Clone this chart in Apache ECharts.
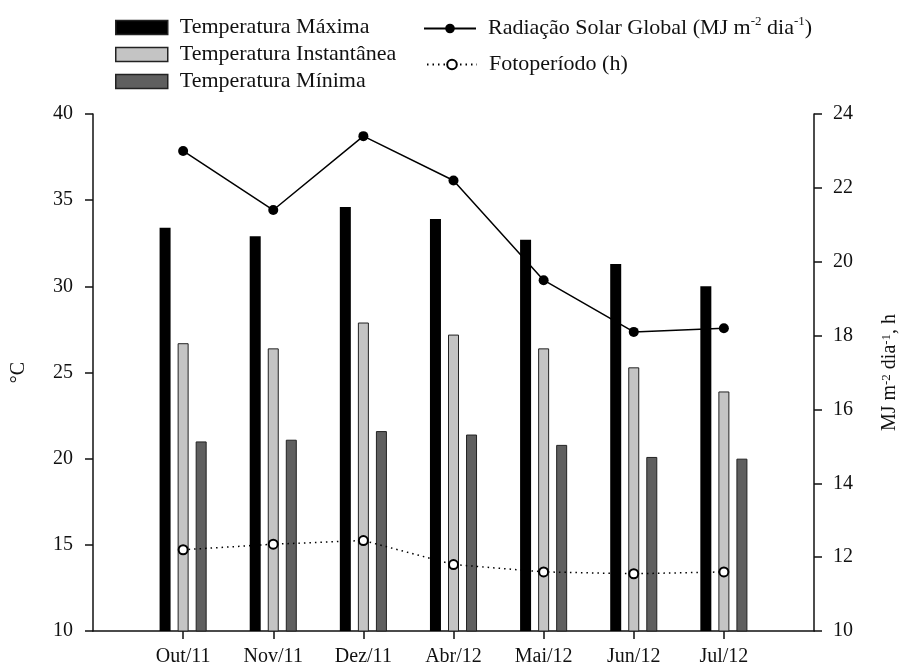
<!DOCTYPE html>
<html>
<head>
<meta charset="utf-8">
<script src="https://cdn.jsdelivr.net/npm/echarts@6/dist/echarts.min.js"></script>
<style>
  html, body { margin: 0; padding: 0; background: #fff; }
  #chart { width: 900px; height: 666px; }
</style>
</head>
<body>
<div id="chart"></div>
<script>
// Months sampled
var months = ['Out/11', 'Nov/11', 'Dez/11', 'Abr/12', 'Mai/12', 'Jun/12', 'Jul/12'];

// Temperatures (°C)
var tempMax  = [33.4, 32.9, 34.6, 33.9, 32.7, 31.3, 30.0];
var tempInst = [26.7, 26.4, 27.9, 27.2, 26.4, 25.3, 23.9];
var tempMin  = [21.0, 21.1, 21.6, 21.4, 20.8, 20.1, 20.0];

// Global solar radiation (MJ m-2 dia-1) and photoperiod (h)
var radiacao    = [23.0, 21.4, 23.4, 22.2, 19.5, 18.1, 18.2];
var fotoperiodo = [12.2, 12.35, 12.45, 11.8, 11.6, 11.55, 11.6];

// Axis ticks
var leftTicks  = { min: 10, max: 40, step: 5 };
var rightTicks = { min: 10, max: 24, step: 2 };

var NAME_MAX  = 'Temperatura Máxima';
var NAME_INST = 'Temperatura Instantânea';
var NAME_MIN  = 'Temperatura Mínima';
var NAME_RAD  = 'Radiação Solar Global (MJ m-2 dia-1)';
var NAME_FOTO = 'Fotoperíodo (h)';

// Empty slot on each side so the months sit one step in from the axis ends
function pad(arr, fill) { return [fill].concat(arr, [fill]); }
var cats = pad(months, '');

var FONT = 'Liberation Serif';
var INK = '#111';

var supRich = {
  sup: { fontSize: 13, fontFamily: FONT, color: INK, verticalAlign: 'top', lineHeight: 13 }
};

var chart = echarts.init(document.getElementById('chart'));
chart.setOption({
  animation: false,
  backgroundColor: '#fff',
  textStyle: { fontFamily: FONT, color: INK },
  grid: { left: 93, right: 86, top: 114, bottom: 35, containLabel: false, outerBoundsMode: 'none' },
  legend: [
    {
      orient: 'vertical', left: 110, top: 9,
      itemWidth: 52, itemHeight: 14, itemGap: 0, icon: 'rect',
      data: [NAME_MAX, NAME_INST, NAME_MIN],
      itemStyle: { borderColor: '#222', borderWidth: 1.5 },
      textStyle: { fontFamily: FONT, fontSize: 22, color: INK, lineHeight: 27, padding: [0, 0, 0, 7] },
      selectedMode: false
    },
    {
      orient: 'horizontal', left: 418, top: 10,
      itemWidth: 52, itemHeight: 12,
      data: [NAME_RAD],
      formatter: function () { return 'Radiação Solar Global (MJ m{sup|-2} dia{sup|-1})'; },
      textStyle: { fontFamily: FONT, fontSize: 22, color: INK, lineHeight: 27, padding: [0, 0, 0, 7], rich: supRich },
      selectedMode: false
    },
    {
      orient: 'horizontal', left: 421, top: 46,
      itemWidth: 50, itemHeight: 12,
      data: [NAME_FOTO],
      textStyle: { fontFamily: FONT, fontSize: 22, color: INK, lineHeight: 27, padding: [0, 0, 0, 7] },
      selectedMode: false
    }
  ],
  xAxis: {
    type: 'category',
    data: cats,
    boundaryGap: false,
    axisLine: { lineStyle: { color: INK, width: 1.5 } },
    axisTick: {
      length: 8, lineStyle: { color: INK, width: 1.5 },
      interval: function (i) { return i > 0 && i < cats.length - 1; }
    },
    axisLabel: { interval: 0, fontFamily: FONT, fontSize: 20, color: INK, margin: 16 },
    splitLine: { show: false }
  },
  yAxis: [
    {
      type: 'value', position: 'left',
      min: leftTicks.min, max: leftTicks.max, interval: leftTicks.step,
      name: '°C', nameLocation: 'middle', nameGap: 64, nameRotate: 90,
      nameTextStyle: { fontFamily: FONT, fontSize: 20, color: INK },
      axisLine: { show: true, lineStyle: { color: INK, width: 1.5 } },
      axisTick: { show: true, length: 8, lineStyle: { color: INK, width: 1.5 } },
      axisLabel: { fontFamily: FONT, fontSize: 20, color: INK, margin: 20 },
      splitLine: { show: false }
    },
    {
      type: 'value', position: 'right',
      min: rightTicks.min, max: rightTicks.max, interval: rightTicks.step,
      name: 'MJ m{sup|-2} dia{sup|-1}, h', nameLocation: 'middle', nameGap: 66, nameRotate: 90,
      nameTextStyle: { fontFamily: FONT, fontSize: 20, color: INK, rich: supRich },
      axisLine: { show: true, lineStyle: { color: INK, width: 1.5 } },
      axisTick: { show: true, length: 8, lineStyle: { color: INK, width: 1.5 } },
      axisLabel: { fontFamily: FONT, fontSize: 20, color: INK, margin: 19 },
      splitLine: { show: false }
    }
  ],
  series: [
    {
      name: NAME_MAX, type: 'bar', yAxisIndex: 0,
      data: pad(tempMax, '-'),
      barWidth: 11, barGap: '64%',
      itemStyle: { color: '#000', borderColor: '#000', borderWidth: 0 }
    },
    {
      name: NAME_INST, type: 'bar', yAxisIndex: 0,
      data: pad(tempInst, '-'),
      barWidth: 11, barGap: '64%',
      itemStyle: { color: '#c4c4c4', borderColor: '#222', borderWidth: 1 }
    },
    {
      name: NAME_MIN, type: 'bar', yAxisIndex: 0,
      data: pad(tempMin, '-'),
      barWidth: 11, barGap: '64%',
      itemStyle: { color: '#5f5f5f', borderColor: '#222', borderWidth: 1 }
    },
    {
      name: NAME_RAD, type: 'line', yAxisIndex: 1, z: 5,
      data: pad(radiacao, '-'),
      symbol: 'circle', symbolSize: 10,
      lineStyle: { color: '#000', width: 1.5 },
      itemStyle: { color: '#000', borderColor: '#000', borderWidth: 0 }
    },
    {
      name: NAME_FOTO, type: 'line', yAxisIndex: 1, z: 5,
      data: pad(fotoperiodo, '-'),
      symbol: 'circle', symbolSize: 9, showAllSymbol: true,
      lineStyle: { color: '#000', width: 1.5, type: [1.5, 4] },
      itemStyle: { color: '#fff', borderColor: '#000', borderWidth: 2 }
    }
  ]
});
</script>
</body>
</html>
